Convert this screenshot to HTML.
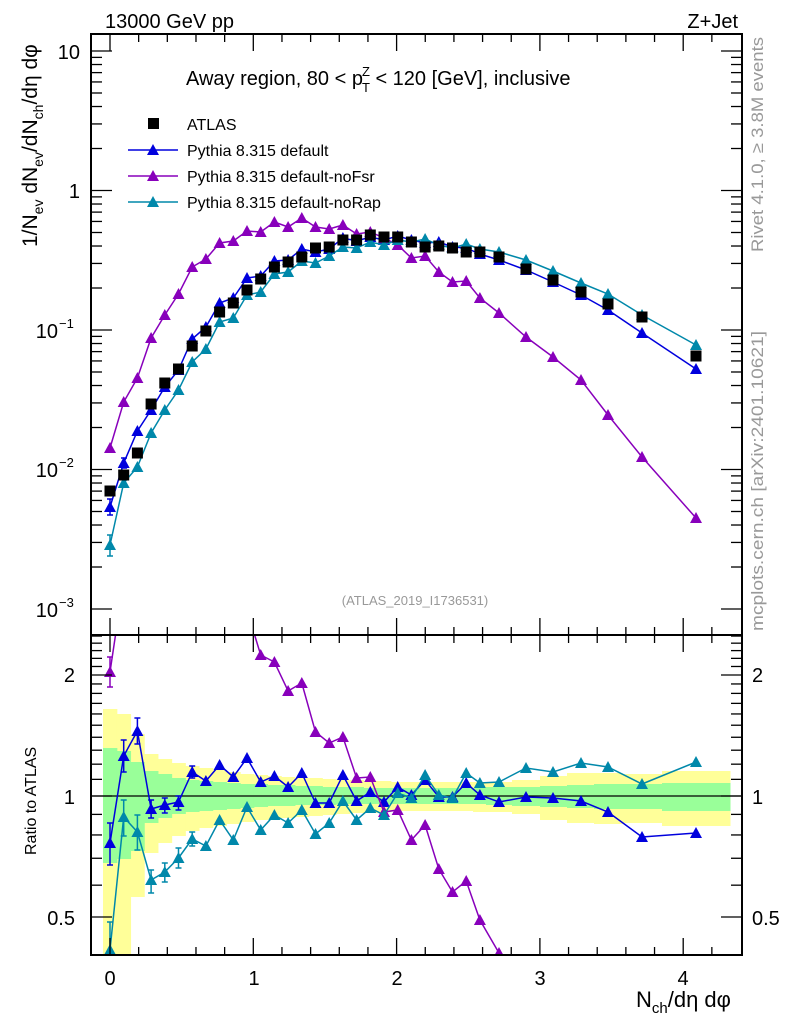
<!DOCTYPE html>
<html><head><meta charset="utf-8"><style>
html,body{margin:0;padding:0;background:#fff;width:786px;height:1024px;overflow:hidden;}
svg{display:block;font-family:"Liberation Sans",sans-serif;}
</style></head><body>
<svg id="s" width="786" height="1024" viewBox="0 0 786 1024" xmlns="http://www.w3.org/2000/svg">
<defs>
<clipPath id="cm"><rect x="91" y="34" width="651" height="601"/></clipPath>
<clipPath id="cr"><rect x="91" y="635" width="651" height="320"/></clipPath>
</defs>
<g id="bands" clip-path="url(#cr)"></g>
<line x1="91" y1="796" x2="742" y2="796" stroke="#000" stroke-width="1.3"/>
<g id="series"></g>
<g id="axes" stroke="#000" stroke-width="1.3" fill="none"></g>
<rect x="91" y="34" width="651" height="601" fill="none" stroke="#000" stroke-width="2"/>
<rect x="91" y="635" width="651" height="320" fill="none" stroke="#000" stroke-width="2"/>
<text x="105" y="28" font-size="20">13000 GeV pp</text>
<text x="738" y="28" font-size="20" text-anchor="end">Z+Jet</text>
<text x="186" y="85" font-size="20">Away region, 80 &lt; p<tspan font-size="13" dx="-1" dy="7">T</tspan><tspan font-size="13" dx="-8" dy="-16">Z</tspan><tspan dy="9"> &lt; 120 [GeV], inclusive</tspan></text>
<rect x="148" y="118" width="11" height="11" fill="#000"/>
<text x="187" y="130" font-size="16">ATLAS</text>
<line x1="128" y1="150" x2="178" y2="150" stroke="#0000dd" stroke-width="1.5"/><polygon points="147,155 159,155 153,144" fill="#0000dd"/>
<text x="187" y="156" font-size="16">Pythia 8.315 default</text>
<line x1="128" y1="176" x2="178" y2="176" stroke="#8800bb" stroke-width="1.5"/><polygon points="147,181 159,181 153,170" fill="#8800bb"/>
<text x="187" y="182" font-size="16">Pythia 8.315 default-noFsr</text>
<line x1="128" y1="202" x2="178" y2="202" stroke="#0088aa" stroke-width="1.5"/><polygon points="147,207 159,207 153,196" fill="#0088aa"/>
<text x="187" y="208" font-size="16">Pythia 8.315 default-noRap</text>
<text x="415" y="605" font-size="13" fill="#999" text-anchor="middle">(ATLAS_2019_I1736531)</text>
<text transform="translate(763,252) rotate(-90)" font-size="17" fill="#999" textLength="215" lengthAdjust="spacingAndGlyphs">Rivet 4.1.0, ≥ 3.8M events</text>
<text transform="translate(763,631) rotate(-90)" font-size="17" fill="#999" textLength="300" lengthAdjust="spacingAndGlyphs">mcplots.cern.ch [arXiv:2401.10621]</text>
<text transform="translate(37,247) rotate(-90)" font-size="21">1/N<tspan font-size="14" dy="6">ev</tspan><tspan dy="-6"> dN</tspan><tspan font-size="14" dy="6">ev</tspan><tspan dy="-6">/dN</tspan><tspan font-size="14" dy="6">ch</tspan><tspan dy="-6">/dη dφ</tspan></text>
<text transform="translate(36,855) rotate(-90)" font-size="16">Ratio to ATLAS</text>
<text x="636" y="1007" font-size="22">N<tspan font-size="15" dy="6">ch</tspan><tspan dy="-6">/dη dφ</tspan></text>
<g font-size="20">
<text x="80" y="59" text-anchor="end">10</text>
<text x="80" y="198" text-anchor="end">1</text>
<text x="58" y="338" text-anchor="end">10</text><text x="59" y="328" font-size="13">−1</text>
<text x="58" y="477" text-anchor="end">10</text><text x="59" y="467" font-size="13">−2</text>
<text x="58" y="617" text-anchor="end">10</text><text x="59" y="607" font-size="13">−3</text>
<text x="75" y="682" text-anchor="end">2</text>
<text x="75" y="804" text-anchor="end">1</text>
<text x="75" y="925" text-anchor="end">0.5</text>
<text x="752" y="682">2</text>
<text x="752" y="804">1</text>
<text x="752" y="925">0.5</text>
<text x="110" y="985" text-anchor="middle">0</text>
<text x="254" y="985" text-anchor="middle">1</text>
<text x="397" y="985" text-anchor="middle">2</text>
<text x="540" y="985" text-anchor="middle">3</text>
<text x="683" y="985" text-anchor="middle">4</text>
</g>
</svg>
<script>
var NS="http://www.w3.org/2000/svg";
function el(p,t,a){var e=document.createElementNS(NS,t);for(var k in a)e.setAttribute(k,a[k]);p.appendChild(e);return e;}
var xs=[];for(var i=0;i<28;i++)xs.push(110+13.7*i);xs=xs.concat([499,526,553,581,608,642,696]);
var atl=[491,475,453,404,383,369,346,331,312,303,290,279,267,262,257,248,247,240,240,235,237,237,242,247,246,248,252,252,257,269,280,292,304,317,356];
var blu=[507,463,431,410,387,370,339,327,303,298,278,276,261,260,249,252,249,238,241,237,240,236,240,243,242,247,248,254,260,270,282,295,310,333,369];
var pur=[448,402,378,338,315,294,267,259,243,241,231,232,222,227,218,227,229,225,234,232,238,245,258,256,272,282,281,298,313,337,357,380,415,457,518];
var cya=[545,483,467,433,410,390,362,349,322,318,295,292,274,272,261,263,256,247,248,242,245,240,242,239,245,248,244,249,252,260,271,283,294,315,345];
var rb=[843,756,731,809,805,802,772,781,765,777,758,782,776,787,773,803,803,775,801,792,802,787,795,780,797,797,783,795,802,797,798,801,812,837,833];
var rc=[950,817,832,880,872,858,839,846,820,840,807,830,815,823,810,834,823,801,820,808,815,793,798,775,795,798,773,783,782,768,772,763,767,784,762];
var rp=[672,580,580,580,580,580,580,580,580,580,610,655,662,691,683,732,743,737,778,777,812,810,840,825,869,892,881,920,953,1000,1000,1000,1000,1000,1000];
var edges=[103];for(var i=0;i<34;i++)edges.push((xs[i]+xs[i+1])/2);edges[28]=486;edges[29]=512;edges[30]=540;edges[31]=567;edges[32]=594;edges[33]=622;edges[34]=662;edges.push(730);
var Y=[[87,158],[82,158],[62,101],[42,57],[37,47],[33,40],[30,35],[28,32],[26,30],[24,28],[22,26],[21,24],[20,23],[19,22],[18,21],[18,20],[17,19],[16,18],[16,17],[15,17],[15,16],[14,15],[14,15],[14,15],[14,15],[14,15],[14,15],[14,16],[14,16],[16,18],[20,24],[23,27],[23,28],[22,27],[25,30]];
var G=[[48,67],[45,63],[34,55],[25,27],[22,22],[18,18],[16,16],[15,15],[14,14],[13,13],[12,12],[12,11],[11,10],[11,10],[10,9],[10,9],[9,9],[9,8],[9,8],[8,8],[8,8],[8,8],[8,8],[8,8],[8,8],[8,8],[8,8],[8,8],[9,9],[9,10],[10,11],[11,12],[12,13],[12,13],[13,15]];
var bg=document.getElementById('bands');
for(var i=0;i<35;i++){var w=edges[i+1]-edges[i];
el(bg,'rect',{x:edges[i],y:796-Y[i][0],width:w+0.5,height:Y[i][0]+Y[i][1],fill:'#ffff99'});}
for(var i=0;i<35;i++){var w=edges[i+1]-edges[i];
el(bg,'rect',{x:edges[i],y:796-G[i][0],width:w+0.5,height:G[i][0]+G[i][1],fill:'#99ff99'});}
var sg=document.getElementById('series');
function series(ys,col,clip){var g=el(sg,'g',{'clip-path':'url(#'+clip+')'});
var pts=xs.map(function(x,i){return x+','+ys[i];}).join(' ');
el(g,'polyline',{points:pts,fill:'none',stroke:col,'stroke-width':1.5});
xs.forEach(function(x,i){var y=ys[i];el(g,'polygon',{points:(x-6)+','+(y+5)+' '+(x+6)+','+(y+5)+' '+x+','+(y-6),fill:col});});return g;}
function err(g,x,a,b,col){el(g,'line',{x1:x,y1:a,x2:x,y2:b,stroke:col,'stroke-width':1.5});el(g,'line',{x1:x-3,y1:a,x2:x+3,y2:a,stroke:col,'stroke-width':1.5});el(g,'line',{x1:x-3,y1:b,x2:x+3,y2:b,stroke:col,'stroke-width':1.5});}
var gb=series(blu,'#0000dd','cm');err(gb,110,499,515,'#0000dd');err(gb,124,458,468,'#0000dd');
series(pur,'#8800bb','cm');
var gc=series(cya,'#0088aa','cm');err(gc,110,535,556,'#0088aa');
var ga=el(sg,'g',{});xs.forEach(function(x,i){el(ga,'rect',{x:x-5.5,y:atl[i]-5.5,width:11,height:11,fill:'#000'});});
var r1=series(rb,'#0000dd','cr');[[823,865],[740,772],[718,744],[800,818],[798,813],[796,810],[766,778]].forEach(function(e,i){err(r1,xs[i],e[0],e[1],'#0000dd');});
var r2=series(rp,'#8800bb','cr');err(r2,110,657,687,'#8800bb');
var r3=series(rc,'#0088aa','cr');[[922,955],[800,836],[815,850],[870,893],[863,882],[848,868],[832,846]].forEach(function(e,i){err(r3,xs[i],e[0],e[1],'#0088aa');});
var ax=document.getElementById('axes');
function ln(a,b,c,d){el(ax,'line',{x1:a,y1:b,x2:c,y2:d});}
for(var v=-0.2;v<=4.4;v+=0.2){var x=110+143.3*v;if(x<92||x>741)continue;var maj=Math.abs(v-Math.round(v))<0.01;var L=maj?17:8;
ln(x,34,x,34+L);ln(x,635,x,635-L);ln(x,635,x,635+L);ln(x,955,x,955-L);}
for(var d=-3;d<=1;d++){for(var m=1;m<10;m++){var y=51+(1-d)*139.5-Math.log10(m)*139.5;if(y<35||y>634)continue;var L=m==1?21:11;ln(91,y,91+L,y);ln(742,y,742-L,y);}}
for(var r=0.4;r<=2.55;r+=0.1){var y=796-121*Math.log2(r);if(y<636||y>954)continue;var rr=Math.round(r*10)/10;var L=(rr==0.5||rr==1||rr==2)?21:11;ln(91,y,91+L,y);ln(742,y,742-L,y);}
</script>
</body></html>
